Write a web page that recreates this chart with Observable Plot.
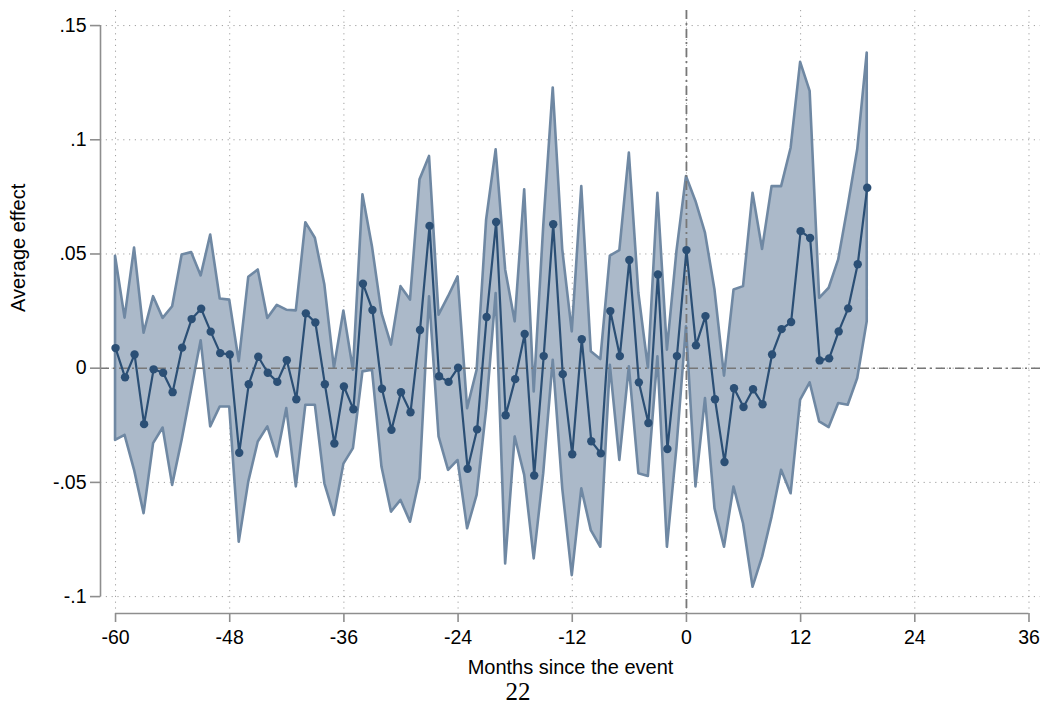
<!DOCTYPE html>
<html>
<head>
<meta charset="utf-8">
<script src="https://cdn.jsdelivr.net/npm/d3@7"></script>
<script src="https://cdn.jsdelivr.net/npm/@observablehq/plot@0.6"></script>
<style>
  body { margin: 0; background: #fff; }
  #wrap { position: relative; width: 1044px; height: 706px; overflow: hidden; }
  #page { position: absolute; left: 0; top: 679px; width: 1036px; height: 26px; text-align: center;
          font: 25px "Liberation Serif", "DejaVu Serif", serif; line-height: 26px; color: #000; }
</style>
</head>
<body>
<div id="wrap"><div id="chart"></div><div id="page">22</div></div>
<script>
// Months since the event
const months = [-60,-59,-58,-57,-56,-55,-54,-53,-52,-51,-50,-49,-48,-47,-46,-45,-44,-43,-42,-41,
  -40,-39,-38,-37,-36,-35,-34,-33,-32,-31,-30,-29,-28,-27,-26,-25,-24,-23,-22,-21,
  -20,-19,-18,-17,-16,-15,-14,-13,-12,-11,-10,-9,-8,-7,-6,-5,-4,-3,-2,-1,
  0,1,2,3,4,5,6,7,8,9,10,11,12,13,14,15,16,17,18,19];

// Point estimates
const est = [0.0088,-0.0040,0.0060,-0.0245,-0.0005,-0.0020,-0.0105,0.0090,0.0215,0.0260,
  0.0160,0.0066,0.0060,-0.0370,-0.0070,0.0050,-0.0020,-0.0060,0.0035,-0.0136,
  0.0240,0.0200,-0.0070,-0.0330,-0.0080,-0.0180,0.0370,0.0255,-0.0090,-0.0270,
  -0.0105,-0.0193,0.0167,0.0623,-0.0035,-0.0060,0.0002,-0.0440,-0.0268,0.0224,
  0.0640,-0.0206,-0.0048,0.0150,-0.0470,0.0053,0.0630,-0.0026,-0.0377,0.0127,
  -0.0320,-0.0373,0.0250,0.0053,0.0474,-0.0062,-0.0240,0.0410,-0.0354,0.0053,
  0.0517,0.0100,0.0228,-0.0136,-0.0411,-0.0088,-0.0170,-0.0092,-0.0158,0.0060,
  0.0171,0.0202,0.0600,0.0570,0.0034,0.0043,0.0161,0.0262,0.0455,0.0790];

// Upper bound of the confidence band
const hi = [0.0490,0.0219,0.0526,0.0153,0.0313,0.0218,0.0269,0.0496,0.0506,0.0404,
  0.0583,0.0303,0.0298,0.0028,0.0398,0.0430,0.0218,0.0275,0.0254,0.0251,
  0.0637,0.0569,0.0364,0.0000,0.0250,-0.0009,0.0759,0.0532,0.0240,0.0101,
  0.0357,0.0298,0.0825,0.0927,0.0232,0.0313,0.0400,-0.0177,-0.0009,0.0649,
  0.0956,0.0430,0.0203,0.0781,-0.0104,0.0620,0.1227,0.0518,0.0159,0.0795,
  0.0072,0.0038,0.0491,0.0515,0.0942,0.0327,0.0000,0.0766,0.0079,0.0510,
  0.0839,0.0730,0.0591,0.0342,-0.0035,0.0342,0.0357,0.0766,0.0520,0.0795,
  0.0795,0.0963,0.1339,0.1212,0.0306,0.0350,0.0474,0.0708,0.0956,0.1380];

// Lower bound of the confidence band
const lo = [-0.0316,-0.0294,-0.0447,-0.0637,-0.0330,-0.0262,-0.0513,-0.0316,-0.0096,0.0120,
  -0.0257,-0.0170,-0.0170,-0.0762,-0.0499,-0.0323,-0.0257,-0.0389,-0.0177,-0.0520,
  -0.0162,-0.0162,-0.0506,-0.0645,-0.0420,-0.0352,-0.0016,-0.0009,-0.0433,-0.0630,
  -0.0579,-0.0674,-0.0484,0.0313,-0.0301,-0.0447,-0.0404,-0.0703,-0.0557,-0.0184,
  0.0327,-0.0857,-0.0301,-0.0469,-0.0835,-0.0462,0.0035,-0.0528,-0.0908,-0.0528,
  -0.0711,-0.0784,0.0013,-0.0404,0.0006,-0.0462,-0.0474,0.0050,-0.0784,-0.0350,
  0.0181,-0.0520,-0.0133,-0.0615,-0.0784,-0.0520,-0.0681,-0.0959,-0.0827,-0.0652,
  -0.0447,-0.0550,-0.0140,-0.0064,-0.0235,-0.0260,-0.0155,-0.0162,-0.0045,0.0203];

const xTicks = [-60,-48,-36,-24,-12,0,12,24,36];
const yTicks = [-0.1,-0.05,0,0.05,0.1,0.15];
const xLabel = "Months since the event";
const yLabel = "Average effect";

const xDomain = [-61.58, 37.21];
const yDomain = [-0.1074, 0.1566];

const data = months.map((m, i) => ({m, est: est[i], lo: lo[i], hi: hi[i]}));
const fmt = d => d === 0 ? "0" : String(+d.toFixed(2)).replace("0.", ".");

const axisGray = "#8e8e8e";
const gridStyle = {stroke: "#a0a0a0", strokeOpacity: 1, strokeWidth: 1, strokeDasharray: "1.2,4.6"};

const chart = Plot.plot({
  width: 1044,
  height: 680,
  marginLeft: 100,
  marginRight: 4,
  marginTop: 10,
  marginBottom: 67,
  x: {domain: xDomain},
  y: {domain: yDomain},
  style: {fontFamily: '"Liberation Sans", Arial, Helvetica, sans-serif', background: "#fff", overflow: "visible", color: "#000"},
  marks: [
    Plot.gridX(xTicks, gridStyle),
    Plot.gridY(yTicks, gridStyle),
    Plot.areaY(data, {x: "m", y1: "lo", y2: "hi", fill: "#abb9c9", stroke: "#6f88a3", strokeWidth: 2.6, strokeLinejoin: "round"}),
    Plot.ruleY([0], {stroke: "#777", strokeWidth: 1.6, strokeDasharray: "9,4,2,4"}),
    Plot.ruleX([0], {stroke: "#777", strokeWidth: 1.8, strokeDasharray: "9,4,2,4"}),
    Plot.lineY(data, {x: "m", y: "est", stroke: "#2b4f75", strokeWidth: 2.2}),
    Plot.dot(data, {x: "m", y: "est", fill: "#2b4f75", r: 4.2}),
    Plot.ruleX([xDomain[0]], {y1: yTicks[0], y2: yTicks[yTicks.length - 1], stroke: axisGray, strokeWidth: 1.6}),
    Plot.ruleY([yDomain[0]], {x1: xTicks[0], x2: xTicks[xTicks.length - 1], stroke: axisGray, strokeWidth: 1.6}),
    Plot.axisY({ticks: yTicks, tickFormat: fmt, tickSize: 10, tickPadding: 4, fontSize: 19.5, stroke: axisGray, strokeWidth: 1.6, fill: "#000", label: null}),
    Plot.axisX({ticks: xTicks, tickFormat: d => String(d), tickSize: 9, tickPadding: 8, fontSize: 19.5, stroke: axisGray, strokeWidth: 1.6, fill: "#000", label: null}),
    Plot.text([xLabel], {frameAnchor: "bottom", dy: 54, fontSize: 20, lineAnchor: "middle", fill: "#000"}),
    Plot.text([yLabel], {frameAnchor: "left", dx: -82, rotate: -90, fontSize: 20, lineAnchor: "middle", fill: "#000"})
  ]
});
document.getElementById("chart").appendChild(chart);
</script>
</body>
</html>
